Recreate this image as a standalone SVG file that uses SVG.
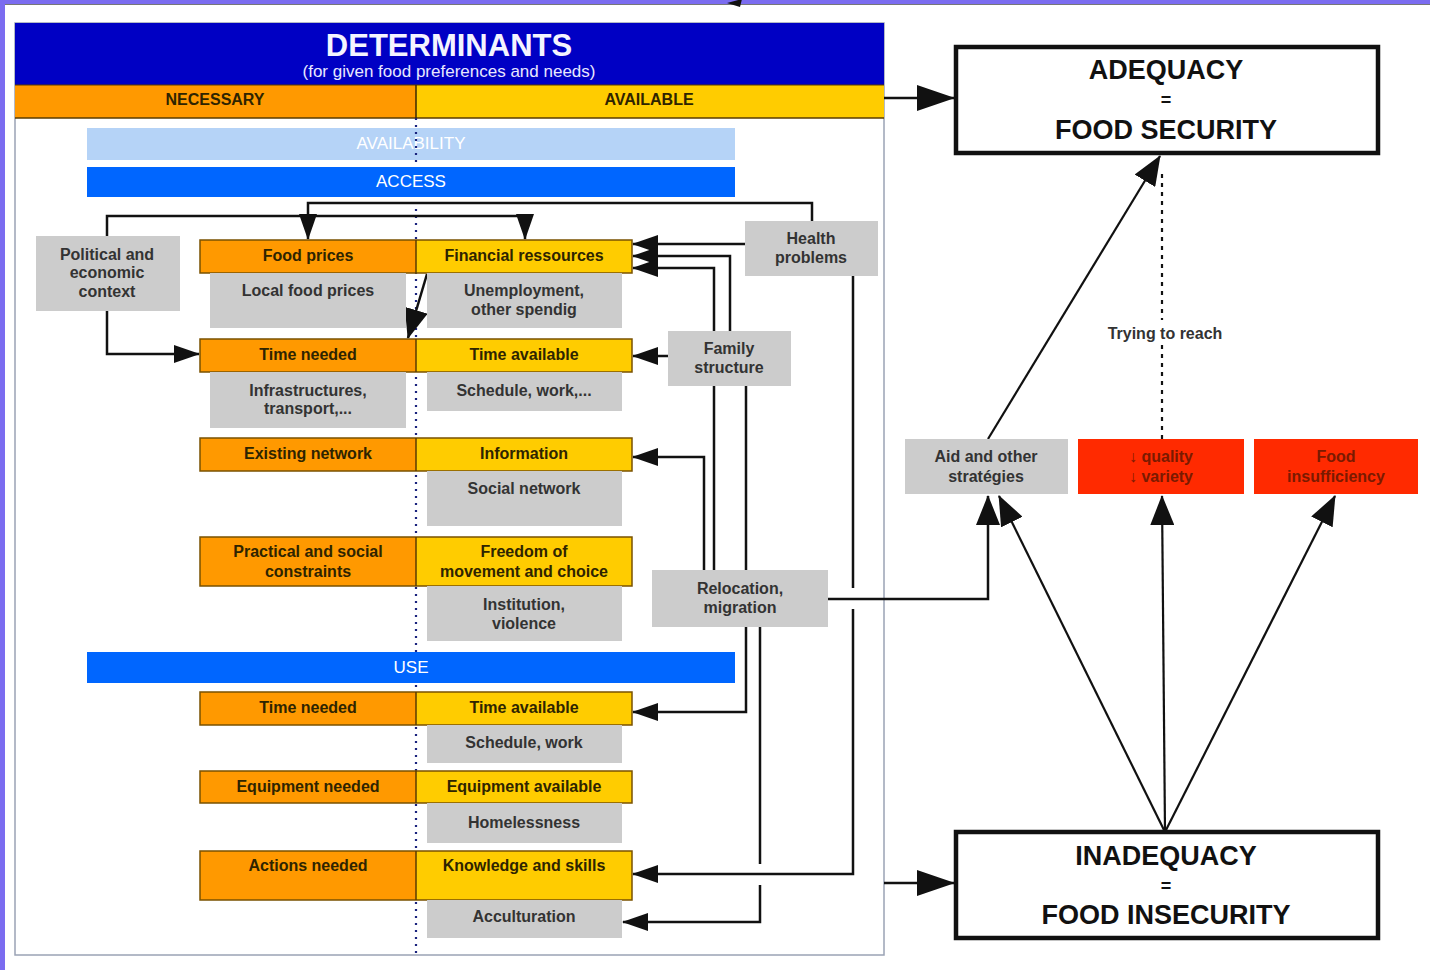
<svg xmlns="http://www.w3.org/2000/svg" width="1430" height="970" viewBox="0 0 1430 970">
<defs>
<style>
text{font-family:"Liberation Sans",Arial,sans-serif}
.lbl{font-size:16px;font-weight:bold;fill:#2e2400;text-anchor:middle}
.g{font-size:16px;font-weight:bold;fill:#333;text-anchor:middle}
.or{fill:#ff9900}
.ye{fill:#ffcc00}
.frame{fill:none;stroke:#7a5200;stroke-width:1.5}
.gb{fill:#cccccc}
.bar{fill:#0066ff}
.bt{font-size:17px;fill:#fff;text-anchor:middle}
.c{fill:none;stroke:#111;stroke-width:2.5}
.d{fill:none;stroke:#111;stroke-width:2.2}
.res{fill:#fff;stroke:#111;stroke-width:4.5}
.big{font-size:27px;font-weight:bold;fill:#111;text-anchor:middle}
.eq{font-size:18px;font-weight:bold;fill:#111;text-anchor:middle}
.red{fill:#ff2a00}
.rt{font-size:16px;font-weight:bold;fill:#7a1a00;text-anchor:middle}
</style>
<marker id="ah" markerUnits="userSpaceOnUse" markerWidth="26" markerHeight="20" refX="25" refY="10" orient="auto"><path d="M0,1 L26,10 L0,19 z" fill="#111"/></marker>
<marker id="am" markerUnits="userSpaceOnUse" markerWidth="30" markerHeight="24" refX="29" refY="12" orient="auto"><path d="M0,0 L30,12 L0,24 z" fill="#111"/></marker>
<marker id="ab" markerUnits="userSpaceOnUse" markerWidth="38" markerHeight="26" refX="37" refY="13" orient="auto"><path d="M0,0 L38,13 L0,26 z" fill="#111"/></marker>
</defs>

<!-- page background and window edges -->
<rect width="1430" height="970" fill="#fff"/>
<rect x="0" y="0" width="1430" height="4" fill="#7b6cf0"/>
<line x1="0" y1="4.5" x2="1430" y2="4.5" stroke="#777" stroke-width="1"/>
<rect x="0" y="0" width="5" height="970" fill="#7b6cf0"/>
<path d="M727,3 L742,-1 L740,7 z" fill="#111"/>

<!-- determinants panel -->
<g id="panel">
  <rect x="15" y="23" width="869" height="932" fill="#fff" stroke="#9aa3b5" stroke-width="1.5"/>
  <rect x="15" y="23" width="869" height="62" fill="#0000c4"/>
  <text x="449" y="56" font-size="31" font-weight="bold" fill="#f4f4ff" text-anchor="middle">DETERMINANTS</text>
  <text x="449" y="77" font-size="17" fill="#e8e8ff" text-anchor="middle">(for given food preferences and needs)</text>
  <rect x="15" y="85" width="401" height="33" class="or"/>
  <rect x="416" y="85" width="468" height="33" class="ye"/>
  <line x1="15" y1="85" x2="884" y2="85" stroke="#5a3c00" stroke-width="1.2"/>
  <line x1="15" y1="118" x2="884" y2="118" stroke="#5a3c00" stroke-width="1.5"/>
  <line x1="416" y1="85" x2="416" y2="118" stroke="#3a2a00" stroke-width="1.5"/>
  <text x="215" y="105" class="lbl" font-size="17">NECESSARY</text>
  <text x="649" y="105" class="lbl" font-size="17">AVAILABLE</text>
  <rect x="87" y="128" width="648" height="32" fill="#b5d3f7"/>
  <text x="411" y="149" class="bt" fill="#eef5ff">AVAILABILITY</text>
  <line x1="416" y1="118" x2="416" y2="955" stroke="#1a237e" stroke-width="2.2" stroke-dasharray="2 5"/>
  <rect x="87" y="167" width="648" height="30" class="bar"/>
  <text x="411" y="187" class="bt">ACCESS</text>
  <rect x="87" y="652" width="648" height="31" class="bar"/>
  <text x="411" y="673" class="bt">USE</text>
</g>

<!-- connectors -->
<g id="connectors">
  <path class="c" d="M812,221 V203 H308 V239" marker-end="url(#ah)"/>
  <path class="c" d="M107,236 V216 H525 V239" marker-end="url(#ah)"/>
  <path class="c" d="M107,311 V354 H199" marker-end="url(#ah)"/>
  <path class="c" d="M427,274 L408,338" marker-end="url(#am)"/>
  <path class="c" d="M745,244 H633" marker-end="url(#ah)"/>
  <path class="c" d="M730,331 V256 H633" marker-end="url(#ah)"/>
  <path class="c" d="M714,570 V268 H633" marker-end="url(#ah)"/>
  <path class="c" d="M668,356 H633" marker-end="url(#ah)"/>
  <path class="c" d="M704,570 V457 H633" marker-end="url(#ah)"/>
  <path class="c" d="M746,386 V712 H633" marker-end="url(#ah)"/>
  <path class="c" d="M760,627 V864"/>
  <path class="c" d="M760,885 V922 H623" marker-end="url(#ah)"/>
  <path class="c" d="M853,276 V588"/>
  <path class="c" d="M853,609 V874 H633" marker-end="url(#ah)"/>
  <path class="c" d="M828,599 H988 V496" marker-end="url(#am)"/>
  <path class="c" d="M884,98 H954" stroke-width="4" marker-end="url(#ab)"/>
  <path class="c" d="M884,883 H954" stroke-width="4" marker-end="url(#ab)"/>
  <path class="d" d="M988,439 L1160,156" marker-end="url(#am)"/>
  <path class="d" d="M1162,439 V172" stroke-dasharray="4 5"/>
  <rect x="1096" y="320" width="138" height="22" fill="#fff"/>
  <text x="1165" y="339" font-size="16" font-weight="bold" fill="#333" text-anchor="middle">Trying to reach</text>
  <path class="d" d="M1165,832 L999,496" marker-end="url(#am)"/>
  <path class="d" d="M1165,832 L1162,496" marker-end="url(#am)"/>
  <path class="d" d="M1165,832 L1335,496" marker-end="url(#am)"/>
</g>

<!-- access determinants -->
<g id="row-prices">
  <rect x="200" y="240" width="216" height="33" class="or"/>
  <rect x="416" y="240" width="216" height="33" class="ye"/>
  <rect x="200" y="240" width="432" height="33" class="frame"/>
  <line x1="416" y1="240" x2="416" y2="273" stroke="#5a3c00" stroke-width="1.5"/>
  <text x="308" y="261" class="lbl">Food prices</text>
  <text x="524" y="261" class="lbl">Financial ressources</text>
</g>
<g id="local-prices"><rect x="210" y="273" width="196" height="55" class="gb"/><text x="308" y="296" class="g">Local food prices</text></g>
<g id="unemployment"><rect x="427" y="273" width="195" height="55" class="gb"/><text x="524" y="296" class="g">Unemployment,</text><text x="524" y="315" class="g">other spendig</text></g>

<g id="row-time">
  <rect x="200" y="339" width="216" height="33" class="or"/>
  <rect x="416" y="339" width="216" height="33" class="ye"/>
  <rect x="200" y="339" width="432" height="33" class="frame"/>
  <line x1="416" y1="339" x2="416" y2="372" stroke="#5a3c00" stroke-width="1.5"/>
  <text x="308" y="360" class="lbl">Time needed</text>
  <text x="524" y="360" class="lbl">Time available</text>
</g>
<g id="infrastructures"><rect x="210" y="372" width="196" height="56" class="gb"/><text x="308" y="396" class="g">Infrastructures,</text><text x="308" y="414" class="g">transport,...</text></g>
<g id="schedule-1"><rect x="427" y="372" width="195" height="39" class="gb"/><text x="524" y="396" class="g">Schedule, work,...</text></g>

<g id="row-network">
  <rect x="200" y="438" width="216" height="33" class="or"/>
  <rect x="416" y="438" width="216" height="33" class="ye"/>
  <rect x="200" y="438" width="432" height="33" class="frame"/>
  <line x1="416" y1="438" x2="416" y2="471" stroke="#5a3c00" stroke-width="1.5"/>
  <text x="308" y="459" class="lbl">Existing network</text>
  <text x="524" y="459" class="lbl">Information</text>
</g>
<g id="social-network"><rect x="427" y="471" width="195" height="55" class="gb"/><text x="524" y="494" class="g">Social network</text></g>

<g id="row-constraints">
  <rect x="200" y="537" width="216" height="49" class="or"/>
  <rect x="416" y="537" width="216" height="49" class="ye"/>
  <rect x="200" y="537" width="432" height="49" class="frame"/>
  <line x1="416" y1="537" x2="416" y2="586" stroke="#5a3c00" stroke-width="1.5"/>
  <text x="308" y="557" class="lbl">Practical and social</text>
  <text x="308" y="577" class="lbl">constraints</text>
  <text x="524" y="557" class="lbl">Freedom of</text>
  <text x="524" y="577" class="lbl">movement and choice</text>
</g>
<g id="institution"><rect x="427" y="586" width="195" height="55" class="gb"/><text x="524" y="610" class="g">Institution,</text><text x="524" y="629" class="g">violence</text></g>

<!-- use determinants -->
<g id="row-use-time">
  <rect x="200" y="692" width="216" height="33" class="or"/>
  <rect x="416" y="692" width="216" height="33" class="ye"/>
  <rect x="200" y="692" width="432" height="33" class="frame"/>
  <line x1="416" y1="692" x2="416" y2="725" stroke="#5a3c00" stroke-width="1.5"/>
  <text x="308" y="713" class="lbl">Time needed</text>
  <text x="524" y="713" class="lbl">Time available</text>
</g>
<g id="schedule-2"><rect x="427" y="725" width="195" height="38" class="gb"/><text x="524" y="748" class="g">Schedule, work</text></g>

<g id="row-equipment">
  <rect x="200" y="771" width="216" height="32" class="or"/>
  <rect x="416" y="771" width="216" height="32" class="ye"/>
  <rect x="200" y="771" width="432" height="32" class="frame"/>
  <line x1="416" y1="771" x2="416" y2="803" stroke="#5a3c00" stroke-width="1.5"/>
  <text x="308" y="792" class="lbl">Equipment needed</text>
  <text x="524" y="792" class="lbl">Equipment available</text>
</g>
<g id="homelessness"><rect x="427" y="803" width="195" height="40" class="gb"/><text x="524" y="828" class="g">Homelessness</text></g>

<g id="row-actions">
  <rect x="200" y="851" width="216" height="49" class="or"/>
  <rect x="416" y="851" width="216" height="49" class="ye"/>
  <rect x="200" y="851" width="432" height="49" class="frame"/>
  <line x1="416" y1="851" x2="416" y2="900" stroke="#5a3c00" stroke-width="1.5"/>
  <text x="308" y="871" class="lbl">Actions needed</text>
  <text x="524" y="871" class="lbl">Knowledge and skills</text>
</g>
<g id="acculturation"><rect x="427" y="900" width="195" height="38" class="gb"/><text x="524" y="922" class="g">Acculturation</text></g>

<!-- external factors -->
<g id="political"><rect x="36" y="236" width="144" height="75" class="gb"/><text x="107" y="260" class="g">Political and</text><text x="107" y="278" class="g">economic</text><text x="107" y="297" class="g">context</text></g>
<g id="health"><rect x="745" y="221" width="133" height="55" class="gb"/><text x="811" y="244" class="g">Health</text><text x="811" y="263" class="g">problems</text></g>
<g id="family"><rect x="668" y="331" width="123" height="55" class="gb"/><text x="729" y="354" class="g">Family</text><text x="729" y="373" class="g">structure</text></g>
<g id="relocation"><rect x="652" y="570" width="176" height="57" class="gb"/><text x="740" y="594" class="g">Relocation,</text><text x="740" y="613" class="g">migration</text></g>

<!-- outcomes -->
<g id="adequacy">
  <rect x="956" y="47" width="422" height="106" class="res"/>
  <text x="1166" y="79" class="big">ADEQUACY</text>
  <text x="1166" y="106" class="eq">=</text>
  <text x="1166" y="139" class="big">FOOD SECURITY</text>
</g>
<g id="inadequacy">
  <rect x="956" y="832" width="422" height="106" class="res"/>
  <text x="1166" y="865" class="big">INADEQUACY</text>
  <text x="1166" y="892" class="eq">=</text>
  <text x="1166" y="924" class="big">FOOD INSECURITY</text>
</g>
<g id="aid"><rect x="905" y="439" width="163" height="55" class="gb"/><text x="986" y="462" class="g">Aid and other</text><text x="986" y="482" class="g">stratégies</text></g>
<g id="quality"><rect x="1078" y="439" width="166" height="55" class="red"/><text x="1161" y="462" class="rt">↓ quality</text><text x="1161" y="482" class="rt">↓ variety</text></g>
<g id="insufficiency"><rect x="1254" y="439" width="164" height="55" class="red"/><text x="1336" y="462" class="rt">Food</text><text x="1336" y="482" class="rt">insufficiency</text></g>
</svg>
